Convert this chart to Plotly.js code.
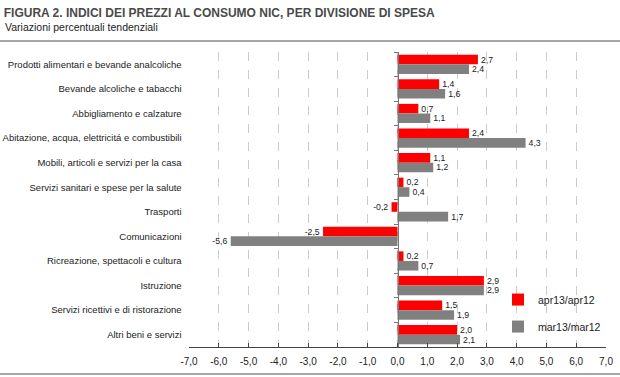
<!DOCTYPE html>
<html>
<head>
<meta charset="utf-8">
<script src="https://cdn.plot.ly/plotly-3.0.1.min.js"></script>
<style>html,body{margin:0;padding:0;background:#fff;}#chart{width:620px;height:377px;}</style>
</head>
<body>
<div id="chart"></div>
<script>
const categories = [
  "Prodotti alimentari e bevande analcoliche",
  "Bevande alcoliche e tabacchi",
  "Abbigliamento e calzature",
  "Abitazione, acqua, elettricitá e combustibili",
  "Mobili, articoli e servizi per la casa",
  "Servizi sanitari e spese per la salute",
  "Trasporti",
  "Comunicazioni",
  "Ricreazione, spettacoli e cultura",
  "Istruzione",
  "Servizi ricettivi e di ristorazione",
  "Altri beni e servizi"
];
const apr13 = [2.7, 1.4, 0.7, 2.4, 1.1, 0.2, -0.2, -2.5, 0.2, 2.9, 1.5, 2.0];
const mar13 = [2.4, 1.6, 1.1, 4.3, 1.2, 0.4, 1.7, -5.6, 0.7, 2.9, 1.9, 2.1];
const seriesNames = ["apr13/apr12", "mar13/mar12"];
const xTicks = [-7, -6, -5, -4, -3, -2, -1, 0, 1, 2, 3, 4, 5, 6, 7];

const fmt = v => v.toFixed(1).replace('.', ',');
const FONT = '"Liberation Sans", Arial, sans-serif';

const traces = [
  {
    type: 'bar', orientation: 'h', name: seriesNames[0],
    y: categories, x: apr13,
    marker: {color: '#ff0000'},
    text: apr13.map(fmt), texttemplate: '%{text}', textposition: 'outside', cliponaxis: false,
    textfont: {family: FONT, size: 10, color: '#222'},
    legendgroup: 'a'
  },
  {
    type: 'bar', orientation: 'h', name: seriesNames[1],
    y: categories, x: mar13,
    marker: {color: '#808080'},
    text: mar13.map(fmt), texttemplate: '%{text}', textposition: 'outside', cliponaxis: false,
    textfont: {family: FONT, size: 10, color: '#222'},
    legendgroup: 'b'
  }
];

const layout = {
  width: 620, height: 377,
  margin: {l: 189, r: 14, t: 52, b: 30, pad: 0},
  paper_bgcolor: '#fff', plot_bgcolor: '#fff',
  font: {family: FONT, size: 10, color: '#222'},
  barmode: 'group', bargap: 0.22, bargroupgap: 0,
  showlegend: true,
  legend: {x: 1, y: 0.21, xanchor: 'right', yanchor: 'top', tracegroupgap: 8,
           font: {family: FONT, size: 10.5, color: '#222'}, bgcolor: 'rgba(0,0,0,0)'},
  title: {
    text: '<b>FIGURA 2. INDICI DEI PREZZI AL CONSUMO NIC, PER DIVISIONE DI SPESA</b>',
    x: 0.006, xanchor: 'left', xref: 'container',
    y: 0.966, yanchor: 'middle', yref: 'container',
    font: {family: FONT, size: 12, color: '#4a4a4a'}
  },
  annotations: [{
    text: 'Variazioni percentuali tendenziali',
    xref: 'paper', yref: 'paper',
    x: -186/416.6, y: 1 + 25/295, xanchor: 'left', yanchor: 'middle',
    showarrow: false, font: {family: FONT, size: 10.5, color: '#222'}
  }],
  shapes: [
    {type: 'line', xref: 'paper', yref: 'paper', x0: -0.5, x1: 1.1,
     y0: 1 + 11/295, y1: 1 + 11/295, line: {color: '#888', width: 1.5}},
    {type: 'line', xref: 'paper', yref: 'paper', x0: -0.5, x1: 1.1,
     y0: -27/295, y1: -27/295, line: {color: '#888', width: 1.5}}
  ],
  xaxis: {
    range: [-7, 7], tickvals: xTicks, ticktext: xTicks.map(fmt),
    showgrid: true, gridcolor: '#cccccc', griddash: 'dash', gridwidth: 1,
    zeroline: false,
    showline: true, linecolor: '#444', linewidth: 1,
    ticks: 'inside', ticklen: 4, tickcolor: '#444',
    ticklabelstandoff: 5,
    tickfont: {family: FONT, size: 10, color: '#222'},
    fixedrange: true
  },
  yaxis: {
    type: 'category', range: [11.5, -0.5],
    anchor: 'free', position: 0.5,
    showline: true, linecolor: '#777', linewidth: 1.5,
    ticks: 'outside', tickson: 'boundaries', ticklen: 4, tickcolor: '#777',
    ticklabelstandoff: 214,
    showgrid: false, zeroline: false,
    tickfont: {family: FONT, size: 9.5, color: '#222'},
    fixedrange: true
  }
};

Plotly.newPlot('chart', traces, layout, {displayModeBar: false, staticPlot: true});
</script>
</body>
</html>
